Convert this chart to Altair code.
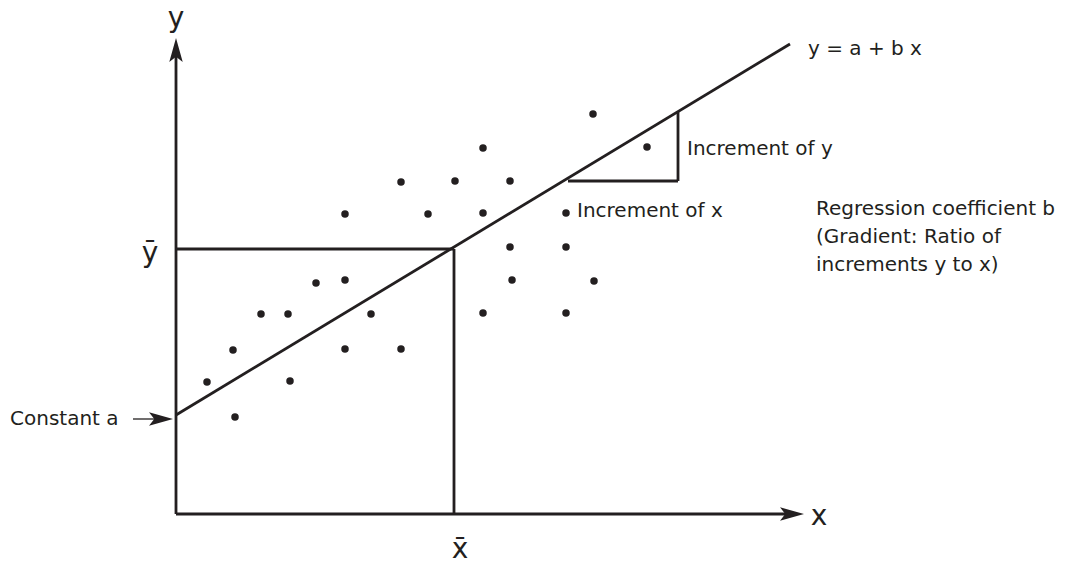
import altair as alt
import pandas as pd

# ---- data (diagram units; origin at the corner of the two axes) ----
point_x = [417, 307, 471, 225, 279, 334, 169, 252, 307, 390, 334, 390, 140, 169,
           336, 418, 85, 112, 195, 307, 390, 57, 169, 225, 31, 114, 59]
point_y = [400, 366, 367, 332, 333, 333, 300, 300, 301, 301, 267, 267, 231, 234,
           234, 233, 200, 200, 200, 201, 201, 164, 165, 165, 132, 133, 97]

seg_name = ["y axis", "x axis", "regression line", "mean of y", "mean of x",
            "increment of x", "increment of y"]
seg_x1 = [0, 0, 0, 0, 278, 392, 502]
seg_y1 = [0, 0, 99, 265, 0, 333, 333]
seg_x2 = [0, 616, 614, 278, 278, 502, 502]
seg_y2 = [464, 0, 470, 265, 265, 333, 402]

pointer_x1 = [-43]
pointer_x2 = [-20]
pointer_y = [95]

arrow_x = [0, 616, -15]
arrow_y = [464, 0, 95]
arrow_dir = [0, 90, 90]

big_text = ["y", "x", "ȳ", "x\u0304"]
big_x = [0, 643, -26, 284]
big_y = [487, -11, 252, -44]

small_text = ["y = a + b x", "Increment of y", "Increment of x",
              "Regression coefficient b", "(Gradient: Ratio of",
              "increments y to x)", "Constant a"]
small_x = [632, 511, 401, 640, 640, 640, -166]
small_y = [459, 359, 297, 299, 271, 243, 89]

X_DOMAIN = [-168, 883]
Y_DOMAIN = [-48, 506]
INK = "#231f20"
FONT = "DejaVu Sans"

xs = alt.Scale(domain=X_DOMAIN, nice=False, zero=False)
ys = alt.Scale(domain=Y_DOMAIN, nice=False, zero=False)

points = pd.DataFrame({"x": point_x, "y": point_y})
segs = pd.DataFrame({"name": seg_name, "x": seg_x1, "y": seg_y1, "x2": seg_x2, "y2": seg_y2})
pointer = pd.DataFrame({"x": pointer_x1, "x2": pointer_x2, "y": pointer_y})
arrows = pd.DataFrame({"x": arrow_x, "y": arrow_y, "dir": arrow_dir})
bigs = pd.DataFrame({"t": big_text, "x": big_x, "y": big_y})
smalls = pd.DataFrame({"t": small_text, "x": small_x, "y": small_y})

seg_layer = alt.Chart(segs).mark_rule(color=INK, strokeWidth=2.8).encode(
    x=alt.X("x:Q", scale=xs, axis=None),
    y=alt.Y("y:Q", scale=ys, axis=None),
    x2="x2:Q",
    y2="y2:Q",
)

pointer_layer = alt.Chart(pointer).mark_rule(color=INK, strokeWidth=1.3).encode(
    x=alt.X("x:Q", scale=xs, axis=None),
    x2="x2:Q",
    y=alt.Y("y:Q", scale=ys, axis=None),
)

arrow_shape = "M0,-1L0.56,1L0,0.56L-0.56,1Z"
arrow_layer = alt.Chart(arrows).mark_point(
    shape=arrow_shape, filled=True, size=576, color=INK, opacity=1, strokeWidth=0
).encode(
    x=alt.X("x:Q", scale=xs, axis=None),
    y=alt.Y("y:Q", scale=ys, axis=None),
    angle=alt.Angle("dir:Q", scale=None),
)

point_layer = alt.Chart(points).mark_circle(size=56, color=INK, opacity=1).encode(
    x=alt.X("x:Q", scale=xs, axis=None),
    y=alt.Y("y:Q", scale=ys, axis=None),
)

big_layer = alt.Chart(bigs).mark_text(
    font=FONT, fontSize=28, color=INK, align="center", baseline="alphabetic"
).encode(
    x=alt.X("x:Q", scale=xs, axis=None),
    y=alt.Y("y:Q", scale=ys, axis=None),
    text="t:N",
)

small_layer = alt.Chart(smalls).mark_text(
    font=FONT, fontSize=20, color=INK, align="left", baseline="alphabetic"
).encode(
    x=alt.X("x:Q", scale=xs, axis=None),
    y=alt.Y("y:Q", scale=ys, axis=None),
    text="t:N",
)

chart = alt.layer(
    seg_layer, pointer_layer, arrow_layer, point_layer, big_layer, small_layer
).properties(
    width=1051,
    height=554,
    padding=0,
    autosize=alt.AutoSizeParams(type="none"),
    background="white",
).configure_view(stroke=None)

chart.save("out.html", embed_options={"renderer": "svg", "actions": False})
